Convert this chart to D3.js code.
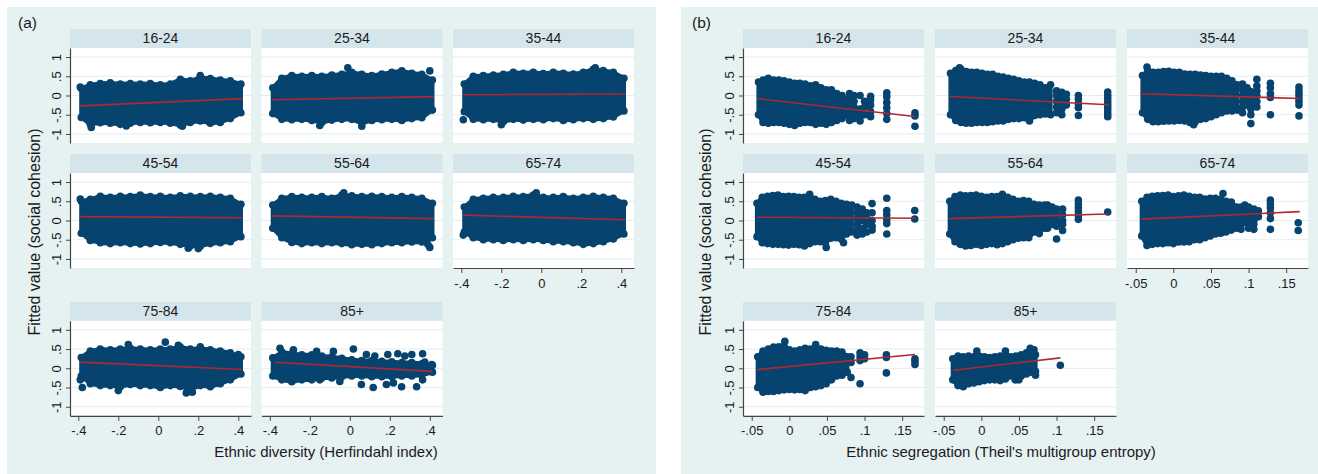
<!DOCTYPE html>
<html><head><meta charset="utf-8">
<script src="https://cdn.jsdelivr.net/npm/d3@7"></script>
<style>
body{margin:0;background:#fff}
svg{display:block}
text{font-family:"Liberation Sans",Arial,Helvetica,sans-serif;fill:#1a1a1a}
</style>
</head><body>
<svg id="c" width="1318" height="474"></svg>
<script>
// ---------------- DATA ----------------
const facetLabels = ["16-24","25-34","35-44","45-54","55-64","65-74","75-84","85+"];
const yTicks = [-1,-0.5,0,0.5,1];
const yTickLabels = ["-1","-.5","0",".5","1"];
const xTicksA = [-0.4,-0.2,0,0.2,0.4];
const xTickLabelsA = ["-.4","-.2","0",".2",".4"];
const xTicksB = [-0.05,0,0.05,0.1,0.15];
const xTickLabelsB = ["-.05","0",".05",".1",".15"];
const titleXA = "Ethnic diversity (Herfindahl index)";
const titleXB = "Ethnic segregation (Theil's multigroup entropy)";
const titleY = "Fitted value (social cohesion)";

// Panel (a): point-cloud envelope (upper / lower edge of dot centres) on a shared x grid
const gridA = [-0.385,-0.34,-0.29,-0.24,-0.19,-0.14,-0.09,-0.04,0.01,0.06,0.11,0.16,0.21,0.26,0.31,0.36,0.413];
const topA = [
  [0.18,0.28,0.31,0.33,0.3,0.31,0.3,0.31,0.28,0.3,0.42,0.38,0.47,0.44,0.4,0.38,0.3],
  [0.2,0.45,0.52,0.5,0.52,0.5,0.53,0.55,0.6,0.55,0.52,0.56,0.6,0.64,0.58,0.55,0.4],
  [0.3,0.5,0.52,0.53,0.55,0.6,0.58,0.6,0.57,0.6,0.58,0.56,0.6,0.68,0.65,0.6,0.45],
  [0.5,0.55,0.63,0.6,0.63,0.62,0.66,0.62,0.63,0.6,0.64,0.63,0.62,0.63,0.6,0.58,0.42],
  [0.4,0.58,0.62,0.6,0.6,0.62,0.58,0.66,0.64,0.62,0.63,0.62,0.6,0.62,0.6,0.58,0.45],
  [0.35,0.55,0.58,0.6,0.6,0.63,0.62,0.66,0.6,0.6,0.62,0.58,0.6,0.63,0.6,0.58,0.45],
  [0.28,0.45,0.5,0.48,0.5,0.52,0.5,0.48,0.5,0.5,0.55,0.5,0.52,0.48,0.45,0.4,0.3],
  [0.27,0.42,0.38,0.35,0.35,0.32,0.3,0.26,0.22,0.2,0.2,0.18,0.17,0.15,0.15,0.12,0.08]
];
const botA = [
  [-0.57,-0.75,-0.71,-0.72,-0.75,-0.72,-0.7,-0.71,-0.7,-0.72,-0.77,-0.7,-0.66,-0.72,-0.7,-0.6,-0.45],
  [-0.47,-0.62,-0.63,-0.62,-0.65,-0.7,-0.64,-0.62,-0.62,-0.72,-0.65,-0.63,-0.62,-0.65,-0.6,-0.58,-0.38],
  [-0.42,-0.62,-0.63,-0.62,-0.68,-0.62,-0.64,-0.62,-0.63,-0.6,-0.65,-0.63,-0.6,-0.62,-0.6,-0.56,-0.4],
  [-0.33,-0.52,-0.58,-0.6,-0.58,-0.6,-0.61,-0.6,-0.57,-0.58,-0.62,-0.66,-0.67,-0.6,-0.58,-0.55,-0.42],
  [-0.2,-0.45,-0.57,-0.6,-0.58,-0.6,-0.58,-0.6,-0.63,-0.62,-0.63,-0.6,-0.58,-0.58,-0.56,-0.56,-0.45],
  [-0.3,-0.45,-0.5,-0.5,-0.52,-0.5,-0.52,-0.5,-0.52,-0.55,-0.55,-0.58,-0.62,-0.6,-0.55,-0.48,-0.35],
  [-0.2,-0.4,-0.45,-0.45,-0.48,-0.42,-0.45,-0.45,-0.5,-0.45,-0.47,-0.55,-0.45,-0.48,-0.4,-0.3,-0.15],
  [-0.2,-0.3,-0.35,-0.3,-0.3,-0.25,-0.25,-0.22,-0.2,-0.2,-0.22,-0.22,-0.22,-0.2,-0.2,-0.18,-0.1]
];
// Panel (a): isolated dots outside the dense cloud
const pointsA = [
  [[-0.335,-0.83],[-0.16,-0.79],[0.12,-0.8],[0.21,0.52],[-0.39,0.22]],
  [[-0.01,0.72],[0.4,0.64],[-0.15,-0.78],[0.06,-0.8]],
  [[-0.39,-0.63],[-0.2,-0.76],[0.27,0.72]],
  [[-0.39,0.56],[0.15,-0.72],[0.2,-0.73]],
  [[0.4,-0.7],[0.39,-0.62],[-0.03,0.72]],
  [[-0.025,0.72],[-0.39,-0.38]],
  [[-0.38,-0.5],[-0.39,-0.3],[-0.2,-0.58],[-0.15,0.62],[0.035,0.68],[0.1,0.6],[0.14,-0.64],[0.17,-0.62],[0.21,0.56],[0.4,0.36]],
  [[0.018,0.5],[0.083,0.36],[0.125,0.32],[0.19,0.36],[0.24,0.38],[0.275,0.32],[0.31,0.36],[0.364,0.38],[0.375,0.16],[0.41,0.1],
   [0.334,-0.48],[0.364,-0.3],[0.117,-0.5],[0.259,-0.48],[0.183,-0.42],[-0.05,-0.34],[-0.15,-0.3],[0.058,-0.42],[0.218,-0.38],
   [-0.082,0.44],[-0.166,0.44],[-0.282,0.48],[-0.349,0.52],[-0.374,-0.1],[0.317,0.07],[0.342,-0.02]]
];
// Panel (a): fitted lines [x0, y0, x1, y1]
const fitA = [
  [-0.39,-0.27,0.42,-0.08],[-0.39,-0.11,0.42,-0.03],[-0.39,0.02,0.42,0.04],[-0.39,0.1,0.42,0.07],
  [-0.39,0.12,0.42,0.05],[-0.39,0.14,0.42,0.02],[-0.39,0.16,0.42,-0.03],[-0.374,0.156,0.41,-0.08]
];

// Panel (b): dense-cloud envelopes, each facet on its own x grid
const xsB = [
  [-0.041,-0.035,-0.028,-0.021,-0.014,-0.007,0,0.007,0.014,0.021,0.028,0.035,0.042,0.049,0.056,0.063,0.07,0.075],
  [-0.041,-0.034,-0.027,-0.02,-0.013,-0.006,0.001,0.008,0.015,0.022,0.029,0.036,0.043,0.05,0.057,0.064,0.071,0.078,0.085,0.092],
  [-0.041,-0.034,-0.027,-0.02,-0.013,-0.006,0.001,0.008,0.015,0.022,0.029,0.036,0.043,0.05,0.057,0.064,0.071,0.078,0.085],
  [-0.043,-0.036,-0.029,-0.022,-0.015,-0.008,-0.001,0.006,0.013,0.02,0.027,0.034,0.041,0.048,0.055,0.062,0.069,0.076,0.083],
  [-0.042,-0.035,-0.028,-0.021,-0.014,-0.007,0,0.007,0.014,0.021,0.028,0.035,0.042,0.049,0.056,0.063,0.07,0.077,0.084],
  [-0.042,-0.035,-0.028,-0.021,-0.014,-0.007,0,0.007,0.014,0.021,0.028,0.035,0.042,0.049,0.056,0.063,0.07,0.077,0.084],
  [-0.042,-0.035,-0.028,-0.021,-0.014,-0.007,0,0.007,0.014,0.021,0.028,0.035,0.042,0.049,0.056,0.063,0.07,0.077],
  [-0.038,-0.031,-0.024,-0.017,-0.01,-0.003,0.004,0.011,0.018,0.025,0.032,0.039,0.046,0.053,0.06,0.067,0.072]
];
const topB = [
  [0.35,0.4,0.45,0.4,0.4,0.38,0.35,0.32,0.32,0.3,0.25,0.28,0.2,0.15,0.15,0.05,0.0,-0.1],
  [0.58,0.65,0.68,0.62,0.6,0.6,0.58,0.55,0.55,0.5,0.48,0.45,0.42,0.38,0.35,0.35,0.32,0.28,0.2,0.28],
  [0.52,0.65,0.6,0.6,0.62,0.63,0.6,0.6,0.56,0.55,0.55,0.53,0.52,0.5,0.5,0.5,0.45,0.38,0.28],
  [0.45,0.6,0.63,0.65,0.66,0.62,0.63,0.62,0.6,0.6,0.62,0.55,0.5,0.52,0.55,0.5,0.45,0.42,0.4],
  [0.5,0.62,0.66,0.64,0.65,0.66,0.63,0.6,0.62,0.62,0.68,0.6,0.55,0.5,0.52,0.5,0.42,0.4,0.4],
  [0.5,0.6,0.63,0.64,0.65,0.66,0.62,0.64,0.66,0.63,0.6,0.6,0.56,0.58,0.58,0.55,0.5,0.48,0.35],
  [0.3,0.45,0.5,0.55,0.56,0.58,0.48,0.45,0.48,0.52,0.5,0.55,0.5,0.47,0.45,0.45,0.42,0.3],
  [0.25,0.32,0.3,0.32,0.3,0.32,0.3,0.28,0.3,0.32,0.35,0.3,0.32,0.35,0.4,0.45,0.35]
];
const botB = [
  [-0.5,-0.7,-0.72,-0.7,-0.7,-0.72,-0.75,-0.78,-0.72,-0.7,-0.7,-0.75,-0.72,-0.75,-0.7,-0.65,-0.6,-0.5],
  [-0.5,-0.65,-0.7,-0.72,-0.72,-0.7,-0.7,-0.7,-0.68,-0.66,-0.66,-0.62,-0.6,-0.6,-0.58,-0.66,-0.52,-0.5,-0.48,-0.5],
  [-0.45,-0.62,-0.68,-0.68,-0.67,-0.66,-0.66,-0.65,-0.66,-0.7,-0.68,-0.62,-0.6,-0.55,-0.5,-0.45,-0.4,-0.4,-0.38],
  [-0.42,-0.58,-0.6,-0.62,-0.62,-0.63,-0.64,-0.62,-0.63,-0.66,-0.6,-0.55,-0.55,-0.58,-0.46,-0.45,-0.48,-0.35,-0.3],
  [-0.35,-0.55,-0.62,-0.66,-0.65,-0.62,-0.65,-0.62,-0.6,-0.63,-0.6,-0.55,-0.5,-0.46,-0.45,-0.45,-0.3,-0.25,-0.2],
  [-0.4,-0.65,-0.62,-0.6,-0.6,-0.58,-0.6,-0.56,-0.56,-0.55,-0.5,-0.5,-0.45,-0.4,-0.35,-0.33,-0.3,-0.25,-0.2],
  [-0.5,-0.62,-0.6,-0.6,-0.58,-0.56,-0.55,-0.56,-0.55,-0.58,-0.5,-0.48,-0.45,-0.4,-0.3,-0.2,-0.18,-0.1],
  [-0.3,-0.45,-0.48,-0.4,-0.38,-0.35,-0.32,-0.3,-0.3,-0.32,-0.28,-0.2,-0.22,-0.2,-0.15,-0.1,-0.08]
];
// Panel (b): sparse dots, grouped as [x, [y values]]
const sparseB = [
  [[0.08,[0.05,-0.1,-0.25,-0.4,-0.55,-0.65]],[0.086,[0.0,-0.15,-0.3,-0.45,-0.6]],[0.094,[0.0,-0.35,-0.45,-0.55,-0.66]],
   [0.1,[-0.15,-0.3,-0.5]],[0.108,[-0.02,-0.12,-0.25,-0.42,-0.55]],[0.1295,[0.07,-0.03,-0.18,-0.32,-0.46,-0.62]],[0.167,[-0.45,-0.53,-0.8]]],
  [[-0.029,[0.72]],[0.1,[0.12,0.0,-0.15,-0.3,-0.45]],[0.107,[0.08,-0.05,-0.2,-0.35,-0.5]],[0.113,[0.03,-0.1,-0.25]],
   [0.129,[0.0,-0.1,-0.22,-0.32,-0.52]],[0.168,[0.09,0.0,-0.08,-0.16,-0.24,-0.32,-0.4,-0.48,-0.55]]],
  [[-0.035,[0.74]],[0.027,[-0.76]],[0.092,[0.3,0.15,0.0,-0.15,-0.3,-0.45]],[0.098,[0.2,0.05,-0.1,-0.25]],
   [0.103,[0.1,-0.05,-0.2,-0.35,-0.5,-0.73]],[0.111,[0.42,0.25,0.12,0.0,-0.15,-0.3]],[0.129,[0.32,0.2,0.05,-0.05,-0.5]],
   [0.167,[0.22,0.12,0.03,-0.06,-0.15,-0.25,-0.53]]],
  [[0.049,[-0.7]],[0.072,[-0.58]],[0.027,[0.68]],[0.09,[0.35,0.2,0.05,-0.1,-0.25,-0.38]],[0.097,[0.3,0.15,0.0,-0.2,-0.35]],
   [0.103,[0.2,0.05,-0.1,-0.3]],[0.11,[0.44,0.2,0.0,-0.15,-0.25]],[0.1295,[0.58,0.26,0.15,0.02,-0.08,-0.35]],[0.1667,[0.26,0.04]]],
  [[0.077,[-0.34]],[0.088,[0.4,0.25,0.1,-0.05,-0.2]],[0.094,[0.35,0.2,0.05,-0.1]],[0.1,[0.3,0.15,0.0,-0.15,-0.48]],
   [0.108,[0.3,0.15,0.0,-0.1,-0.26]],[0.129,[0.53,0.43,0.33,0.23,0.13,0.03]],[0.168,[0.22]]],
  [[0.066,[0.7]],[0.09,[0.35,0.2,0.05,-0.1,-0.23]],[0.095,[0.4,0.25,0.1,-0.05]],[0.1,[0.35,0.2,0.05,-0.05,-0.2]],
   [0.107,[0.3,0.15,0.0,-0.1,-0.23]],[0.113,[0.25,0.1]],[0.129,[0.53,0.43,0.33,0.2,0.05,-0.23]],[0.166,[-0.06,-0.26]]],
  [[-0.006,[0.7]],[0.035,[0.62]],[0.082,[0.3,0.15,-0.24]],[0.094,[0.4,0.3,0.2,-0.4]],[0.1,[0.35,0.25]],
   [0.129,[0.35,0.28,-0.12]],[0.167,[0.25,0.18,0.1]]],
  [[-0.006,[0.45]],[0.032,[0.45]],[0.065,[0.52]],[0.07,[0.48]],[0.105,[0.08]],[0.045,[-0.3]],[0.05,[-0.3]],[0.072,[-0.18]]]
];
const fitB = [
  [-0.042,-0.086,0.167,-0.545],[-0.0416,-0.026,0.169,-0.24],[-0.044,0.044,0.168,-0.077],[-0.0425,0.086,0.167,0.06],
  [-0.0425,0.05,0.168,0.17],[-0.042,0.035,0.168,0.23],[-0.043,-0.035,0.167,0.36],[-0.037,-0.05,0.105,0.27]
];

// ---------------- LAYOUT / STYLE ----------------
const W = 1318, H = 474;
const bgColor = "#e6f1f2", stripColor = "#d5e5ec", gridColor = "#e2edf0";
const dotColor = "#07436f", fitColor = "#b0282f", axisColor = "#444";
const dotR = 3.8;
const rowStrip = [29, 154, 301.8];
const stripH = 19, plotH = 95, plotW = 181;
const yDom = [-1.235, 1.235];
const svg = d3.select("#c");

function drawPanel(p) {
  const g = svg.append("g");
  g.append("rect").attr("x", p.bx).attr("y", 7).attr("width", p.bw).attr("height", H - 7).attr("fill", bgColor);
  g.append("text").attr("x", p.bx + 11).attr("y", 28).style("font-size", "15.5px").text(p.tag);

  facetLabels.forEach((lab, i) => {
    const r = Math.floor(i / 3), c = i % 3;
    const left = p.cols[c], sTop = rowStrip[r], pTop = sTop + stripH;
    const x = d3.scaleLinear().domain(p.xDom).range([left, left + plotW]);
    const y = d3.scaleLinear().domain(yDom).range([pTop + plotH, pTop]);
    const f = g.append("g");
    f.append("rect").attr("x", left).attr("y", sTop).attr("width", plotW).attr("height", stripH).attr("fill", stripColor);
    f.append("text").attr("x", left + plotW / 2).attr("y", sTop + 14).attr("text-anchor", "middle")
      .style("font-size", "14px").text(lab);
    f.append("rect").attr("x", left).attr("y", pTop).attr("width", plotW).attr("height", plotH).attr("fill", "#fff");
    f.selectAll("line.grid").data(yTicks).join("line").attr("class", "grid")
      .attr("x1", left).attr("x2", left + plotW).attr("y1", d => y(d)).attr("y2", d => y(d))
      .attr("stroke", gridColor).attr("stroke-width", 1);

    // dense cloud: filled envelope with dots along its edges (bumpy outline)
    const xs = p.xs(i);
    const cloud = xs.map((xv, k) => ({ x: xv, t: p.top[i][k], b: p.bot[i][k] }));
    const area = d3.area().x(d => x(d.x)).y0(d => y(d.b)).y1(d => y(d.t));
    f.append("path").attr("d", area(cloud)).attr("fill", dotColor).attr("stroke", dotColor)
      .attr("stroke-width", dotR * 1.1).attr("stroke-linejoin", "round");
    const edgePts = cloud.flatMap(d => [[d.x, d.t], [d.x, d.b]]);
    const extra = p.pts(i);
    f.selectAll("circle.dot").data(edgePts.concat(extra)).join("circle").attr("class", "dot")
      .attr("cx", d => x(d[0])).attr("cy", d => y(d[1])).attr("r", dotR).attr("fill", dotColor);

    // fitted line
    const fl = p.fit[i];
    f.append("path").attr("d", d3.line().x(d => x(d[0])).y(d => y(d[1]))([[fl[0], fl[1]], [fl[2], fl[3]]]))
      .attr("stroke", fitColor).attr("stroke-width", 1.6).attr("fill", "none");

    // y axis
    if (c === 0) {
      const ay = f.append("g").attr("transform", `translate(${left},0)`)
        .call(d3.axisLeft(y).tickValues(yTicks).tickSize(4).tickSizeOuter(0).tickFormat((d, k) => yTickLabels[k]));
      ay.attr("font-family", null).attr("font-size", null).style("color", axisColor);
      ay.select(".domain").attr("stroke-width", 1.2);
      ay.selectAll("text").attr("x", null).attr("dy", null).attr("text-anchor", "middle")
        .attr("transform", "translate(-9,0) rotate(-90)").style("font-size", "13px").style("fill", "#1a1a1a");
    }
    // x axis
    if (i >= 5) {
      const ax = f.append("g").attr("transform", `translate(0,${pTop + plotH})`)
        .call(d3.axisBottom(x).tickValues(p.xTicks).tickSize(5).tickSizeOuter(0).tickFormat((d, k) => p.xTickLabels[k]));
      ax.attr("font-family", null).attr("font-size", null).style("color", axisColor);
      ax.select(".domain").attr("stroke-width", 1.2);
      ax.selectAll("text").attr("y", 19.5).attr("dy", null).style("font-size", "13px").style("fill", "#1a1a1a");
    }
  });

  g.append("text").attr("x", p.titleX).attr("y", 457).attr("text-anchor", "middle").style("font-size", "15px").text(p.xTitle);
  g.append("text").attr("transform", `translate(${p.yTitleX},232) rotate(-90)`).attr("text-anchor", "middle")
    .style("font-size", "16px").text(titleY);
}

drawPanel({
  bx: 7, bw: 649, tag: "(a)", cols: [70, 261.5, 453], xDom: [-0.4415, 0.4635],
  xs: () => gridA, top: topA, bot: botA, pts: i => pointsA[i], fit: fitA,
  xTicks: xTicksA, xTickLabels: xTickLabelsA, xTitle: titleXA, titleX: 326, yTitleX: 40
});
drawPanel({
  bx: 681, bw: W - 681, tag: "(b)", cols: [743, 935, 1127], xDom: [-0.0616, 0.179],
  xs: i => xsB[i], top: topB, bot: botB,
  pts: i => sparseB[i].flatMap(([xv, ys]) => ys.map(yv => [xv, yv])), fit: fitB,
  xTicks: xTicksB, xTickLabels: xTickLabelsB, xTitle: titleXB, titleX: 1001, yTitleX: 711
});
</script>
</body></html>
